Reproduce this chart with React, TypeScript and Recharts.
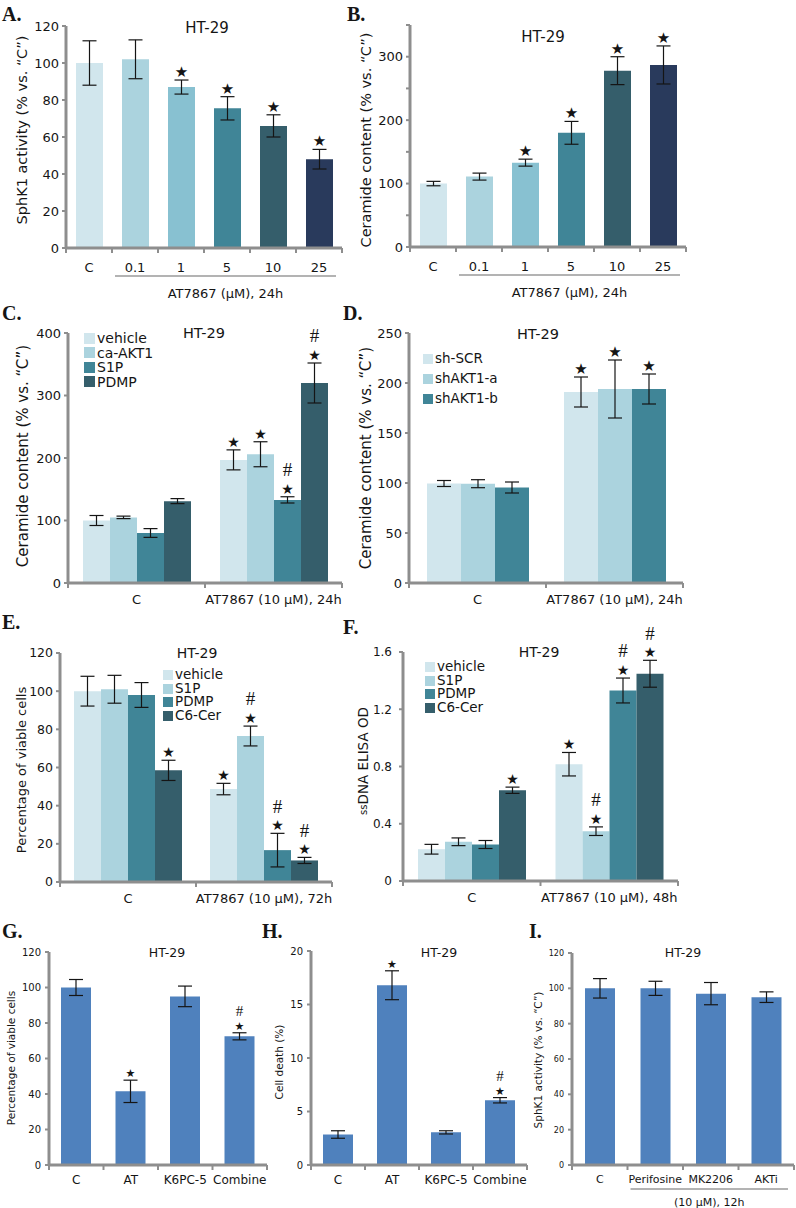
import React from "react";
import { Bar, BarChart, Cell, ErrorBar, LabelList, XAxis, YAxis } from "recharts";

const FONT = "'DejaVu Sans', sans-serif";
const SERIF = "'Liberation Serif', 'Times New Roman', serif";
const GREY = "#8e8e8e";
const INK = "#151515";

// colours
const paleTeal = "#d1e6ed";
const lightTeal = "#abd3de";
const midTeal = "#408597";
const darkTeal = "#355e6b";
const excelBlue = "#4f81bd";

// A + B: dose response
const doseCats = ["C", "0.1", "1", "5", "10", "25"];
const doseColors = ["#d1e6ed", "#abd3de", "#88c1d1", "#408597", "#355e6b", "#293a5c"];
const doseMarks = ["", "", "*", "*", "*", "*"];
const sphk1Dose = [100, 102, 87, 75.5, 66, 48];
const sphk1DoseErr = [12, 10.5, 3.8, 6.3, 6, 5.3];
const ceramideDose = [100, 111, 133, 180, 278, 287];
const ceramideDoseErr = [3.5, 5.5, 5.5, 18, 22, 30];

// C
const groups24 = ["C", "AT7867 (10 μM), 24h"];
const cerVehicle = [100, 197];
const cerVehicleErr = [8, 16];
const cerCaAkt1 = [105, 206];
const cerCaAkt1Err = [2, 20];
const cerS1p = [80, 133];
const cerS1pErr = [7, 5];
const cerPdmp = [131, 320];
const cerPdmpErr = [4, 32];

// D
const shScr = [99.5, 191];
const shScrErr = [3, 15];
const shAkt1a = [99.3, 194];
const shAkt1aErr = [4, 29];
const shAkt1b = [95.5, 194];
const shAkt1bErr = [5.5, 15];

// E
const groups72 = ["C", "AT7867 (10 μM), 72h"];
const viaVehicle = [100, 48.7];
const viaVehicleErr = [7.8, 3];
const viaS1p = [101, 76.5];
const viaS1pErr = [7.3, 5.2];
const viaPdmp = [98, 16.7];
const viaPdmpErr = [6.5, 8.8];
const viaC6 = [58.5, 11.3];
const viaC6Err = [5.3, 1.6];

// F
const groups48 = ["C", "AT7867 (10 μM), 48h"];
const odVehicle = [0.222, 0.816];
const odVehicleErr = [0.034, 0.082];
const odS1p = [0.274, 0.348];
const odS1pErr = [0.027, 0.03];
const odPdmp = [0.255, 1.331];
const odPdmpErr = [0.028, 0.087];
const odC6 = [0.634, 1.448];
const odC6Err = [0.022, 0.094];

// G + H
const comboCats = ["C", "AT", "K6PC-5", "Combine"];
const comboMarks = ["", "*", "", "*#"];
const viableCombo = [100, 41.5, 95, 72.5];
const viableComboErr = [4.5, 6.3, 5.8, 2];
const deathCombo = [2.85, 16.8, 3.05, 6.05];
const deathComboErr = [0.35, 1.35, 0.15, 0.25];

// I
const inhibCats = ["C", "Perifosine", "MK2206", "AKTi"];
const sphk1Inhib = [100, 100, 97, 95];
const sphk1InhibErr = [5.5, 4, 6.3, 3];

const ticks120 = [0, 20, 40, 60, 80, 100, 120];

type Series = { key: string; name: string; color: string; values: number[]; errs: number[]; marks: string[] };
type Spec = {
  id: string;
  left: number; top: number; bottom: number;
  x0: number; x1: number; yTop: number; yZero: number;
  cats: string[]; series: Series[]; cellColors?: string[];
  yMax: number; yTicks: number[]; yFmt?: (v: number) => string;
  barSize: number; tickFont: number; tickGap: number; catFont: number; catDy: number;
  yLabel: React.ReactNode; yLabelX: number; yLabelY: number; yLabelFont: number;
  title: { x: number; y: number; font: number };
  bracket?: { from: number; to: number; label: string; lineDy: number; textDy: number; font: number };
  legend?: { x: number; y: number; font: number; row: number; box: number };
  starFont: number; hashFont: number;
};

const specs: Spec[] = [
  {
    id: "A", left: 0, top: 0, bottom: 308, x0: 66, x1: 342, yTop: 26, yZero: 248,
    cats: doseCats, cellColors: doseColors,
    series: [{ key: "sphk1", name: "SphK1", color: doseColors[0], values: sphk1Dose, errs: sphk1DoseErr, marks: doseMarks }],
    yMax: 120, yTicks: ticks120, barSize: 27, tickFont: 13, tickGap: 3, catFont: 13, catDy: 24,
    yLabel: "SphK1 activity (% vs. “C”)", yLabelX: 22, yLabelY: 130, yLabelFont: 14.5,
    title: { x: 207, y: 28, font: 15 },
    bracket: { from: 1, to: 5, label: "AT7867 (μM), 24h", lineDy: 28, textDy: 50, font: 13 },
    starFont: 15, hashFont: 19,
  },
  {
    id: "B", left: 350, top: 0, bottom: 308, x0: 410, x1: 686, yTop: 25, yZero: 247,
    cats: doseCats, cellColors: doseColors,
    series: [{ key: "cer", name: "Ceramide", color: doseColors[0], values: ceramideDose, errs: ceramideDoseErr, marks: doseMarks }],
    yMax: 350, yTicks: [0, 50, 100, 150, 200, 250, 300, 350],
    yFmt: (v) => (v % 100 === 0 && v <= 300 ? String(v) : ""),
    barSize: 27, tickFont: 13, tickGap: 3, catFont: 13, catDy: 24,
    yLabel: "Ceramide content (% vs. “C”)", yLabelX: 366, yLabelY: 140, yLabelFont: 14.5,
    title: { x: 543, y: 37, font: 15 },
    bracket: { from: 1, to: 5, label: "AT7867 (μM), 24h", lineDy: 28, textDy: 50, font: 13 },
    starFont: 15, hashFont: 19,
  },
  {
    id: "C", left: 0, top: 310, bottom: 613, x0: 68, x1: 342, yTop: 333, yZero: 583,
    cats: groups24,
    series: [
      { key: "veh", name: "vehicle", color: paleTeal, values: cerVehicle, errs: cerVehicleErr, marks: ["", "*"] },
      { key: "ca", name: "ca-AKT1", color: lightTeal, values: cerCaAkt1, errs: cerCaAkt1Err, marks: ["", "*"] },
      { key: "s1p", name: "S1P", color: midTeal, values: cerS1p, errs: cerS1pErr, marks: ["", "*#"] },
      { key: "pdmp", name: "PDMP", color: darkTeal, values: cerPdmp, errs: cerPdmpErr, marks: ["", "*#"] },
    ],
    yMax: 400, yTicks: [0, 100, 200, 300, 400], barSize: 27, tickFont: 13, tickGap: 3, catFont: 13, catDy: 21,
    yLabel: "Ceramide content (% vs. “C”)", yLabelX: 23, yLabelY: 456, yLabelFont: 15,
    title: { x: 204, y: 333, font: 14.5 },
    legend: { x: 84, y: 331, font: 14, row: 14.5, box: 11 },
    starFont: 14, hashFont: 19,
  },
  {
    id: "D", left: 350, top: 310, bottom: 613, x0: 409, x1: 683, yTop: 333, yZero: 583,
    cats: groups24,
    series: [
      { key: "scr", name: "sh-SCR", color: paleTeal, values: shScr, errs: shScrErr, marks: ["", "*"] },
      { key: "a", name: "shAKT1-a", color: lightTeal, values: shAkt1a, errs: shAkt1aErr, marks: ["", "*"] },
      { key: "b", name: "shAKT1-b", color: midTeal, values: shAkt1b, errs: shAkt1bErr, marks: ["", "*"] },
    ],
    yMax: 250, yTicks: [0, 50, 100, 150, 200, 250], barSize: 34, tickFont: 13, tickGap: 3, catFont: 13, catDy: 21,
    yLabel: "Ceramide content (% vs. “C”)", yLabelX: 366, yLabelY: 458, yLabelFont: 15,
    title: { x: 538, y: 334, font: 14.5 },
    legend: { x: 423, y: 349, font: 13.5, row: 20, box: 10 },
    starFont: 15, hashFont: 19,
  },
  {
    id: "E", left: 0, top: 630, bottom: 910, x0: 60, x1: 332, yTop: 653, yZero: 882,
    cats: groups72,
    series: [
      { key: "veh", name: "vehicle", color: paleTeal, values: viaVehicle, errs: viaVehicleErr, marks: ["", "*"] },
      { key: "s1p", name: "S1P", color: lightTeal, values: viaS1p, errs: viaS1pErr, marks: ["", "*#"] },
      { key: "pdmp", name: "PDMP", color: midTeal, values: viaPdmp, errs: viaPdmpErr, marks: ["", "*#"] },
      { key: "c6", name: "C6-Cer", color: darkTeal, values: viaC6, errs: viaC6Err, marks: ["*", "*#"] },
    ],
    yMax: 120, yTicks: ticks120, barSize: 27, tickFont: 12.5, tickGap: 3, catFont: 13, catDy: 21,
    yLabel: "Percentage of viable cells", yLabelX: 21, yLabelY: 770, yLabelFont: 13,
    title: { x: 197, y: 653, font: 14 },
    legend: { x: 163, y: 668, font: 13.5, row: 13.7, box: 10 },
    starFont: 14, hashFont: 19,
  },
  {
    id: "F", left: 350, top: 615, bottom: 910, x0: 403, x1: 678, yTop: 652, yZero: 881,
    cats: groups48,
    series: [
      { key: "veh", name: "vehicle", color: paleTeal, values: odVehicle, errs: odVehicleErr, marks: ["", "*"] },
      { key: "s1p", name: "S1P", color: lightTeal, values: odS1p, errs: odS1pErr, marks: ["", "*#"] },
      { key: "pdmp", name: "PDMP", color: midTeal, values: odPdmp, errs: odPdmpErr, marks: ["", "*#"] },
      { key: "c6", name: "C6-Cer", color: darkTeal, values: odC6, errs: odC6Err, marks: ["*", "*#"] },
    ],
    yMax: 1.6, yTicks: [0, 0.4, 0.8, 1.2, 1.6], yFmt: (v) => (v === 0 ? "0" : v.toFixed(1)),
    barSize: 27, tickFont: 12, tickGap: 7, catFont: 13, catDy: 21,
    yLabel: (
      <>
        <tspan style={{ fontSize: "0.75em" }}>ss</tspan>DNA ELISA OD
      </>
    ),
    yLabelX: 363, yLabelY: 761, yLabelFont: 13.5,
    title: { x: 539, y: 652, font: 14 },
    legend: { x: 425, y: 660, font: 13.5, row: 13.7, box: 10 },
    starFont: 14, hashFont: 19,
  },
  {
    id: "G", left: 0, top: 940, bottom: 1208, x0: 49, x1: 267, yTop: 952, yZero: 1165,
    cats: comboCats,
    series: [{ key: "via", name: "viable", color: excelBlue, values: viableCombo, errs: viableComboErr, marks: comboMarks }],
    yMax: 120, yTicks: ticks120, barSize: 30, tickFont: 10, tickGap: 4, catFont: 12, catDy: 19,
    yLabel: "Percentage of viable cells", yLabelX: 11, yLabelY: 1058, yLabelFont: 10.5,
    title: { x: 167, y: 953, font: 12.5 },
    starFont: 11, hashFont: 15,
  },
  {
    id: "H", left: 262, top: 940, bottom: 1208, x0: 311, x1: 527, yTop: 951, yZero: 1165,
    cats: comboCats,
    series: [{ key: "death", name: "death", color: excelBlue, values: deathCombo, errs: deathComboErr, marks: comboMarks }],
    yMax: 20, yTicks: [0, 5, 10, 15, 20], barSize: 30, tickFont: 10, tickGap: 4, catFont: 12, catDy: 19,
    yLabel: "Cell death (%)", yLabelX: 279, yLabelY: 1062, yLabelFont: 10.5,
    title: { x: 439, y: 953, font: 12.5 },
    starFont: 11, hashFont: 15,
  },
  {
    id: "I", left: 527, top: 940, bottom: 1208, x0: 572, x1: 794, yTop: 953, yZero: 1165,
    cats: inhibCats,
    series: [{ key: "sphk1", name: "SphK1", color: excelBlue, values: sphk1Inhib, errs: sphk1InhibErr, marks: ["", "", "", ""] }],
    yMax: 120, yTicks: ticks120, barSize: 30, tickFont: 8, tickGap: 4, catFont: 11, catDy: 18,
    yLabel: "SphK1 activity (% vs. “C”)", yLabelX: 538, yLabelY: 1060, yLabelFont: 10.5,
    title: { x: 683, y: 953, font: 12.5 },
    bracket: { from: 1, to: 3, label: "(10 μM), 12h", lineDy: 24, textDy: 41, font: 11 },
    starFont: 11, hashFont: 15,
  },
];

const letters = [
  { t: "A.", x: 2, y: 20 },
  { t: "B.", x: 347, y: 20 },
  { t: "C.", x: 2, y: 319 },
  { t: "D.", x: 343, y: 319 },
  { t: "E.", x: 2, y: 628 },
  { t: "F.", x: 343, y: 633 },
  { t: "G.", x: 2, y: 937 },
  { t: "H.", x: 262, y: 937 },
  { t: "I.", x: 529, y: 937 },
];

function CatTick(props: any) {
  const { x, y, payload, index, half, n, font, dy, bracket } = props;
  const bx0 = bracket ? x - half + 3 : 0;
  const bx1 = bracket ? x + (bracket.to - bracket.from) * 2 * half + half - 6 : 0;
  return (
    <g>
      <line x1={x - half} x2={x - half} y1={y} y2={y + 5} stroke={GREY} strokeWidth={2} />
      {index === n - 1 && <line x1={x + half} x2={x + half} y1={y} y2={y + 5} stroke={GREY} strokeWidth={2} />}
      <text x={x} y={y + dy} textAnchor="middle" fontSize={font} fontFamily={FONT} fill={INK}>
        {payload.value}
      </text>
      {bracket && index === bracket.from && (
        <g>
          <line x1={bx0} x2={bx1} y1={y + bracket.lineDy} y2={y + bracket.lineDy} stroke="#9a9a9a" strokeWidth={1.5} />
          <text x={(bx0 + bx1) / 2} y={y + bracket.textDy} textAnchor="middle" fontSize={bracket.font} fontFamily={FONT} fill={INK}>
            {bracket.label}
          </text>
        </g>
      )}
    </g>
  );
}

// star above the error bar, hash stacked above the star without their boxes touching
function Marks(props: any) {
  const { index, se, starFont, hashFont } = props;
  const mark: string = se.marks[index];
  if (!mark) return null;
  const vb = props.viewBox || props;
  const x = Number(vb.x);
  const y = Number(vb.y);
  const w = Number(vb.width);
  const h = Number(vb.height);
  const v = se.values[index];
  const errPx = v ? (h * se.errs[index]) / v : 0;
  const cx = x + w / 2;
  const starY = y - errPx - 3;
  const hashY = starY - 0.93 * starFont - 0.22 * hashFont - 0.5;
  return (
    <g>
      {mark.includes("#") && (
        <text x={cx} y={hashY} textAnchor="middle" fontSize={hashFont} fontFamily={SERIF} fill={INK}>
          #
        </text>
      )}
      <text x={cx} y={starY} textAnchor="middle" fontSize={starFont} fontFamily={FONT} fill={INK}>
        ★
      </text>
    </g>
  );
}

function Panel({ s }: { s: Spec }) {
  const yW = s.x0 - s.left;
  const mt = s.yTop - s.top;
  const right = 2;
  const width = s.x1 - s.left + right;
  const height = s.bottom - s.top;
  const xH = s.bottom - s.yZero;
  const half = (s.x1 - s.x0) / s.cats.length / 2;
  const rows = s.cats.map((cat, i) => {
    const row: Record<string, string | number> = { cat };
    s.series.forEach((se) => {
      row[se.key] = se.values[i];
      row[se.key + "Err"] = se.errs[i];
    });
    return row;
  });

  return (
    <>
      <div style={{ position: "absolute", left: s.left, top: s.top }}>
        <BarChart width={width} height={height} data={rows} margin={{ top: mt, right, bottom: 0, left: 0 }} barGap={0}>
          <XAxis
            dataKey="cat"
            height={xH}
            interval={0}
            axisLine={{ stroke: GREY, strokeWidth: 3 }}
            tickLine={false}
            tickSize={0}
            tickMargin={0}
            tick={(p: any) => <CatTick {...p} half={half} n={s.cats.length} font={s.catFont} dy={s.catDy} bracket={s.bracket} />}
          />
          <YAxis
            width={yW}
            domain={[0, s.yMax]}
            ticks={s.yTicks}
            interval={0}
            tickFormatter={s.yFmt}
            axisLine={{ stroke: GREY, strokeWidth: 3 }}
            tickLine={{ stroke: GREY, strokeWidth: 2 }}
            tickSize={4}
            tickMargin={s.tickGap}
            tick={{ fontSize: s.tickFont, fontFamily: FONT, fill: INK }}
          />
          {s.series.map((se) => (
            <Bar key={se.key} dataKey={se.key} name={se.name} fill={se.color} barSize={s.barSize} isAnimationActive={false}>
              {s.cellColors && s.cellColors.map((c, i) => <Cell key={i} fill={c} />)}
              <ErrorBar dataKey={se.key + "Err"} width={7} stroke={INK} strokeWidth={1.2} direction="y" isAnimationActive={false} />
              <LabelList
                dataKey={se.key}
                content={(p: any) => <Marks {...p} se={se} starFont={s.starFont} hashFont={s.hashFont} />}
              />
            </Bar>
          ))}
        </BarChart>
      </div>
      <div
        style={{
          position: "absolute",
          left: s.title.x,
          top: s.title.y,
          transform: "translate(-50%, -50%)",
          fontSize: s.title.font,
          lineHeight: 1,
          whiteSpace: "nowrap",
        }}
      >
        HT-29
      </div>
      <svg style={{ position: "absolute", left: s.yLabelX - 15, top: s.yLabelY - 160, overflow: "visible" }} width={30} height={320}>
        <text
          transform={`translate(15,160) rotate(-90)`}
          textAnchor="middle"
          dominantBaseline="central"
          fontSize={s.yLabelFont}
          fontFamily={FONT}
          fill={INK}
        >
          {s.yLabel}
        </text>
      </svg>
      {s.legend && (
        <div style={{ position: "absolute", left: s.legend.x, top: s.legend.y }}>
          {s.series.map((se) => (
            <div key={se.key} style={{ display: "flex", alignItems: "center", height: s.legend!.row, fontSize: s.legend!.font, lineHeight: 1 }}>
              <span style={{ width: s.legend!.box, height: s.legend!.box, background: se.color, marginRight: 2, display: "inline-block" }} />
              <span>{se.name}</span>
            </div>
          ))}
        </div>
      )}
    </>
  );
}

export default function App() {
  return (
    <div
      style={{
        position: "absolute",
        left: 0,
        top: 0,
        width: 796,
        height: 1208,
        overflow: "hidden",
        background: "#fff",
        fontFamily: FONT,
        color: INK,
      }}
    >
      {specs.map((s) => (
        <Panel key={s.id} s={s} />
      ))}
      {letters.map((l) => (
        <div
          key={l.t}
          style={{
            position: "absolute",
            left: l.x,
            top: l.y - 17,
            fontFamily: SERIF,
            fontWeight: "bold",
            fontSize: 20,
            lineHeight: "22px",
          }}
        >
          {l.t}
        </div>
      ))}
    </div>
  );
}
